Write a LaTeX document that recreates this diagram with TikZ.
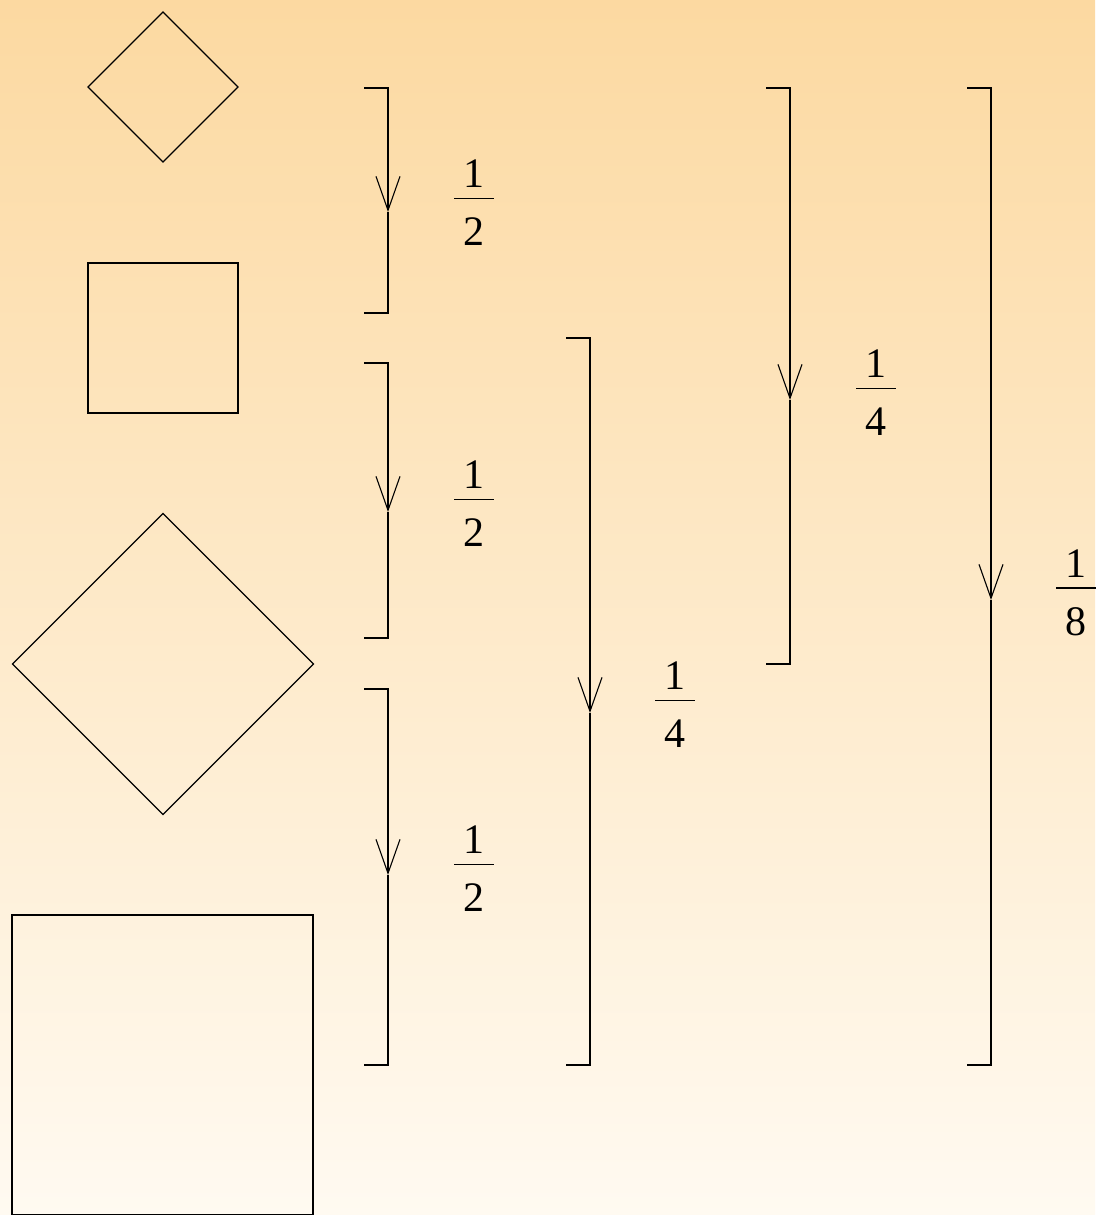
\documentclass[tikz,border=0pt]{standalone}
\usepackage{fontspec}
\setmainfont{Liberation Serif}
\usetikzlibrary{shapes.geometric,arrows.meta}
\newcommand{\myfrac}[2]{\vbox{\hbox to 40pt{\hss#1\hss}\kern10pt\hrule height 1.3pt\kern19pt\hbox to 40pt{\hss#2\hss}}}
\newcommand{\mybracket}[5]{%
  \coordinate (#1-t) at (#2-24,#3);
  \coordinate (#1-tr) at (#2,#3);
  \coordinate (#1-m) at (#2,#5);
  \coordinate (#1-br) at (#2,#4);
  \coordinate (#1-b) at (#2-24,#4);
  \draw[tipar] (#1-t) -- (#1-tr) -- (#1-m);
  \draw (#1-m) -- (#1-br) -- (#1-b);}
\begin{document}
\begin{tikzpicture}[x=1pt,y=-1pt,line width=1.1pt,line join=miter,
  shp/.style={draw,inner sep=0pt,outer sep=0pt},
  dia/.style={shp,diamond,aspect=1},
  sq/.style={shp,rectangle},
  tipar/.style={-{Straight Barb[length=34pt,width=24pt,line width=1.1pt]}},
  lab/.style={font=\fontsize{42}{50}\selectfont,inner sep=0pt}]
\definecolor{bgtop}{HTML}{FCD9A1}
\definecolor{bgbot}{HTML}{FFFAF1}
\shade[top color=bgtop,bottom color=bgbot] (0,0) rectangle (1095,1215);
\useasboundingbox (0,0) rectangle (1095,1215);
% shapes
\node[dia,minimum width=150pt,minimum height=150pt] (d1) at (163,87) {};
\node[sq,minimum width=150pt,minimum height=150pt] (s1) at (163,338) {};
\node[dia,minimum width=301pt,minimum height=301pt] (d2) at (163,664) {};
\node[sq,minimum width=301pt,minimum height=300pt] (s2) at (162.5,1065) {};
% brackets
\mybracket{b1}{388}{88}{313}{212}
\mybracket{b2}{388}{363}{638}{512}
\mybracket{b3}{388}{689}{1065}{875}
\mybracket{b4}{590}{338}{1065}{713}
\mybracket{b5}{790}{88}{664}{400}
\mybracket{b6}{991}{88}{1065}{600}
% labels
\node[lab] (f1) at (474,202.75) {\myfrac{1}{2}};
\node[lab] (f2) at (474,503.75) {\myfrac{1}{2}};
\node[lab] (f3) at (474,868.75) {\myfrac{1}{2}};
\node[lab] (f4) at (675,704.75) {\myfrac{1}{4}};
\node[lab] (f5) at (876,392.75) {\myfrac{1}{4}};
\node[lab] (f6) at (1076,592.75) {\myfrac{1}{8}};
\end{tikzpicture}
\end{document}
